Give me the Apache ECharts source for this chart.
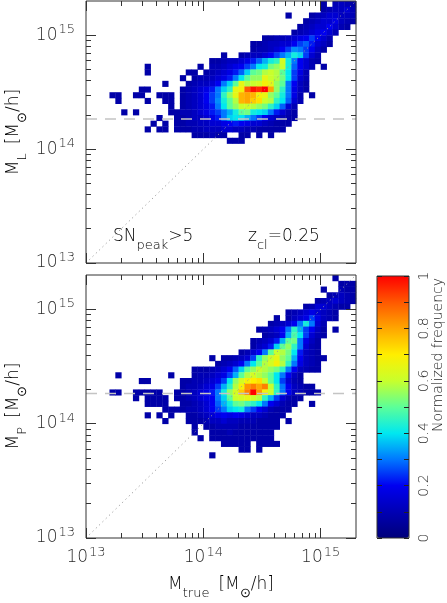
<!DOCTYPE html>
<html><head><meta charset="utf-8">
<script src="https://cdn.jsdelivr.net/npm/echarts@6/dist/echarts.min.js"></script>
<style>html,body{margin:0;padding:0;background:#fff}#c{width:447px;height:603px}</style>
</head><body><div id="c"></div>
<script>
// ---- data (log10 mass bins, width 0.05 dex, starting at 10^13) ----
const binStart = 13.0;
const binWidth = 0.05;
const axisMin = 13;
const axisMax = Math.log10(2e15);
const majorExps = [13, 14, 15];
const minorMults = [2, 3, 4, 5, 6, 7, 8, 9];
const massCut = 1.84e14;
const diagMass = [1e13, 2e15];
const cbarTicks = [0, 0.2, 0.4, 0.6, 0.8, 1];
const cbarLabels = ['0', '0.2', '0.4', '0.6', '0.8', '1'];

// rows: [yBin, firstXBin, normalized frequency x100 per x bin ...]
const topRows = [
  [45,40, 8,0,10,12,10,8],
  [44,40, 8,10,12,12,15,10],
  [43,34, 8,0,0,0,8,10,12,15,15,12,12,10],
  [42,37, 8,10,12,15,15,18,12,10,8],
  [41,36, 8,10,12,15,15,20,15,10,8],
  [40,35, 8,10,12,15,18,20,15,10],
  [39,30, 8,8,10,10,12,15,18,20,25,20,15,10],
  [38,28, 8,8,10,12,12,15,15,20,25,28,22,15,12,8],
  [37,28, 8,10,10,12,15,20,25,32,30,25,20,12,8],
  [36,23, 8,0,0,8,10,12,12,15,20,25,30,35,42,38,25,15,10],
  [35,21, 8,8,10,12,12,15,18,22,28,35,42,45,62,42,30,20,15,10,8],
  [34,10, 8,0,0,0,0,0,0,0,0,8,0,10,10,12,15,18,20,25,30,40,42,52,55,60,42,28,20,15,10,0,8],
  [33,10, 8,0,0,0,0,0,0,8,8,0,8,10,12,15,18,22,28,38,50,52,58,60,58,50,40,25,18,10],
  [32,16, 8,0,8,10,10,12,15,18,22,30,40,50,55,55,65,60,58,52,40,25,15,10],
  [31,13, 8,0,0,0,8,10,12,12,15,20,30,38,50,65,58,60,62,68,65,55,50,30,20,12,8],
  [30,9, 8,8,0,0,0,0,0,8,10,12,15,18,22,30,38,45,65,68,90,98,95,100,80,55,45,30,18,12,8],
  [29,4, 8,8,0,0,8,8,0,0,8,8,8,0,8,10,12,15,20,25,30,45,55,65,78,80,78,68,66,55,50,42,30,18,10,0,8],
  [28,5, 8,0,0,0,0,8,0,0,8,8,0,8,10,12,15,20,25,32,42,50,58,78,80,75,72,60,58,45,40,28,15,10],
  [27,14, 8,0,8,10,12,15,18,22,30,40,50,55,60,60,58,55,52,45,38,28,15,10],
  [26,6, 8,0,8,0,0,0,0,0,8,8,10,10,12,15,18,22,25,30,35,42,50,52,42,40,38,30,22,15,10,8],
  [25,12, 8,0,0,8,8,10,12,12,15,18,22,30,38,40,40,35,30,25,20,15,12,10,8,8],
  [24,11, 8,0,8,0,8,8,10,10,12,12,15,15,18,20,22,20,18,15,15,12,10,8,8,8],
  [23,10, 8,0,8,8,0,8,8,8,10,10,12,12,12,15,15,12,12,10,10,8,8,8,8,8],
  [22,18, 8,8,8,10,8,8,0,0,8,8,0,8,0,8],
  [21,24, 8,8,8]
];
const botRows = [
  [45,42, 8],
  [44,43, 8,8,8],
  [43,40, 8,0,0,10,8,8],
  [42,41, 8,10,12,10,8],
  [41,39, 8,10,12,15,12,10,8],
  [40,37, 8,10,15,15,12,10,8,8],
  [39,34, 8,10,12,15,18,15,12,10,8],
  [38,32, 8,0,8,12,15,18,25,18,12,10,8],
  [37,31, 8,10,12,15,20,30,42,30,15,10],
  [36,29, 8,10,12,15,20,30,45,35,25,20,12,8,0,8],
  [35,30, 8,10,12,20,35,48,40,25,15,10,8],
  [34,28, 8,10,12,15,22,35,50,52,30,18,12,8],
  [33,28, 8,12,15,22,38,50,55,45,30,15,10,8],
  [32,26, 8,10,15,20,30,50,60,58,52,40,22,12,10,8],
  [31,21, 8,0,8,8,10,12,15,25,45,55,60,65,55,50,35,20,12,10,8,8],
  [30,22, 8,10,12,15,20,30,40,50,58,62,68,58,45,30,18,12,10,8],
  [29,18, 8,8,8,10,12,15,20,28,38,50,55,60,58,55,52,45,30,20,12,10,8,8],
  [28,5, 8,0,0,0,0,0,0,0,0,8,0,0,0,8,10,10,12,15,18,25,35,50,58,62,58,55,50,40,30,20,12,8],
  [27,9, 8,8,0,0,0,0,0,8,8,10,10,12,15,18,25,40,55,62,68,70,72,60,50,40,25,15,10,8],
  [26,16, 8,10,10,12,15,18,25,35,45,58,68,82,85,80,85,60,45,30,20,12,10,8,8],
  [25,4, 8,8,0,0,8,8,8,8,8,0,0,8,8,10,12,15,18,22,30,42,55,62,75,85,100,82,68,60,45,30,20,12,10,8,8,8],
  [24,8, 8,0,8,8,8,8,0,8,8,10,12,15,18,20,30,38,50,60,62,65,60,58,45,35,25,15,10,8,8],
  [23,10, 8,8,8,8,0,0,8,8,10,12,15,20,28,35,42,50,52,48,45,40,30,20,15,10,8,8,0,0,8],
  [22,13, 8,8,8,8,10,10,12,15,20,25,30,38,40,42,30,25,20,15,10,8,8,8],
  [21,10, 8,0,8,0,8,0,0,8,8,10,12,15,18,20,18,20,18,15,12,12,10,8,8,8],
  [20,13, 8,0,0,0,8,8,8,10,12,12,15,12,12,10,10,10,8,8,8,8,0,8],
  [19,18, 8,0,8,8,10,10,10,10,8,8,8,8,8,8,8],
  [18,18, 8,0,0,8,8,8,10,8,8,8,8,8,8,8],
  [17,19, 8,0,8,8,8,8,8,8,8,8,8,8,8],
  [16,23, 8,8,8,8,8,0,8,8,8,8],
  [15,26, 8,8,0,8],
  [14,21, 8]
];

// ---- build ----
function cells(rows) {
  const out = [];
  rows.forEach(r => {
    const j = r[0], i0 = r[1];
    for (let k = 2; k < r.length; k++) {
      if (r[k] > 0) out.push([binStart + (i0 + k - 2) * binWidth, binStart + j * binWidth, r[k] / 100]);
    }
  });
  return out;
}
const F = '"DejaVu Sans", "Liberation Sans", sans-serif';
const W = 200;
const TXT = '#2a2a2a';
const minorVals = [];
majorExps.forEach(e => minorMults.forEach(m => { const v = e + Math.log10(m); if (v < axisMax - 1e-6) minorVals.push(v); }));
const tickRich = {
  b: {fontFamily: F, fontWeight: W, fontSize: 17, lineHeight: 24, color: TXT},
  s: {fontFamily: F, fontWeight: W, fontSize: 13, lineHeight: 13, verticalAlign: 'top', color: TXT, padding: [0, 0, 0, 1]}
};
function mkAxis(gridIndex, position, vals, len, labelMargin) {
  return {
    type: 'value', gridIndex, position, min: axisMin, max: axisMax, z: 5,
    axisLine: {show: false, onZero: false}, splitLine: {show: false},
    axisTick: {show: true, inside: true, length: len, customValues: vals, lineStyle: {color: '#333', width: 1}},
    axisLabel: labelMargin != null ? {
      show: true, customValues: majorExps, margin: labelMargin,
      formatter: v => '{b|10}{s|' + Math.round(v) + '}', rich: tickRich
    } : {show: false}
  };
}
const xAxes = [], yAxes = [];
[0, 1].forEach(g => {
  xAxes.push(mkAxis(g, 'bottom', majorExps, 10, g === 1 ? 8 : null));
  xAxes.push(mkAxis(g, 'bottom', minorVals, 5, null));
  xAxes.push(mkAxis(g, 'top', majorExps, 10, null));
  xAxes.push(mkAxis(g, 'top', minorVals, 5, null));
  yAxes.push(mkAxis(g, 'left', majorExps, 10, 11));
  yAxes.push(mkAxis(g, 'left', minorVals, 5, null));
  yAxes.push(mkAxis(g, 'right', majorExps, 10, null));
  yAxes.push(mkAxis(g, 'right', minorVals, 5, null));
});
xAxes.push({type: 'value', gridIndex: 2, show: false, min: 0, max: 1});
const cbTickStyle = {show: true, inside: true, length: 5, lineStyle: {color: '#222', width: 1}};
yAxes.push({type: 'value', gridIndex: 2, position: 'left', min: 0, max: 1, interval: 0.1, z: 10,
  axisLine: {show: false}, splitLine: {show: false}, axisTick: cbTickStyle, axisLabel: {show: false}});
yAxes.push({type: 'value', gridIndex: 2, position: 'right', min: 0, max: 1, interval: 0.1, z: 10,
  axisLine: {show: false}, splitLine: {show: false}, axisTick: cbTickStyle,
  axisLabel: {show: true, rotate: 90, margin: 8, fontFamily: F, fontWeight: W, fontSize: 14, color: TXT,
    formatter: v => { const k = cbarTicks.findIndex(t => Math.abs(t - v) < 1e-6); return k >= 0 ? cbarLabels[k] : ''; }}});

function cellSeries(data, ai) {
  return {
    type: 'custom', xAxisIndex: ai, yAxisIndex: ai, data, encode: {x: 0, y: 1}, z: 2, silent: true,
    renderItem(params, api) {
      const x0 = api.value(0), y0 = api.value(1);
      const p0 = api.coord([x0, y0]), p1 = api.coord([x0 + binWidth, y0 + binWidth]);
      return {type: 'rect', shape: {x: p0[0], y: p1[1], width: p1[0] - p0[0] + 0.4, height: p0[1] - p1[1] + 0.4},
        style: {fill: api.visual('color')}};
    }
  };
}
function cutSeries(ai) {
  const yc = Math.log10(massCut);
  return {type: 'line', xAxisIndex: ai, yAxisIndex: ai, data: [[axisMin, yc], [axisMax, yc]], symbol: 'none', silent: true, z: 4,
    lineStyle: {color: '#c4c4c4', width: 1.6, type: [11, 8]}};
}
function diagSeries(ai) {
  return {type: 'line', xAxisIndex: ai, yAxisIndex: ai, data: diagMass.map(m => [Math.log10(m), Math.log10(m)]),
    symbol: 'none', silent: true, z: 4, lineStyle: {color: '#999999', width: 1, type: [1.2, 3.4]}};
}

const mainRich = {
  m: {fontFamily: F, fontWeight: W, fontSize: 17, lineHeight: 30, color: TXT},
  sub: {fontFamily: F, fontWeight: W, fontSize: 13, lineHeight: 13, verticalAlign: 'bottom', color: TXT}
};
const titleRich = {
  m: {fontFamily: F, fontWeight: W, fontSize: 17, lineHeight: 30, color: TXT},
  sp: {fontFamily: F, fontSize: 17, lineHeight: 30, color: TXT, width: 9},
  sub: {fontFamily: F, fontWeight: W, fontSize: 13, lineHeight: 13, verticalAlign: 'bottom', color: TXT}
};
function txt(x, y, text, rich, rot, align) {
  return {type: 'text', x, y, rotation: rot || 0, silent: true, z: 20,
    style: {text, rich, align: align || 'center', verticalAlign: 'middle'}};
}

const chart = echarts.init(document.getElementById('c'), null, {renderer: 'canvas'});
chart.setOption({
  animation: false,
  backgroundColor: '#fff',
  grid: [
    {left: 86, top: 1, width: 270, height: 262, show: true, borderColor: '#333', borderWidth: 1, backgroundColor: 'transparent', z: 5},
    {left: 86, top: 275, width: 270, height: 263, show: true, borderColor: '#333', borderWidth: 1, backgroundColor: 'transparent', z: 5},
    {left: 377, top: 276, width: 32, height: 262, show: true, borderColor: '#333', borderWidth: 1, backgroundColor: 'transparent', z: 10}
  ],
  xAxis: xAxes,
  yAxis: yAxes,
  visualMap: {
    type: 'continuous', min: 0, max: 1, dimension: 2, seriesIndex: [0, 1],
    left: 377, top: 276, itemWidth: 32, itemHeight: 262, padding: 0,
    calculable: false, showLabel: false, text: null, hoverLink: false,
    inRange: {color: ['#00007a', '#0000b4', '#0000f0', '#0078ff', '#00e8f0', '#5cff98', '#c8ff2c', '#ffee00', '#ffa600', '#ff5800', '#ff0000']}
  },
  series: [
    cellSeries(cells(topRows), 0),
    cellSeries(cells(botRows), 4),
    cutSeries(0), cutSeries(4),
    diagSeries(0), diagSeries(4)
  ],
  graphic: [
    txt(14, 132, '{m|M}{sub|L}{sp| }{m|[M}{sub|⊙}{m|/h]}', titleRich, Math.PI / 2),
    txt(14, 406, '{m|M}{sub|P}{sp| }{m|[M}{sub|⊙}{m|/h]}', titleRich, Math.PI / 2),
    txt(221, 585, '{m|M}{sub|true}{sp| }{m|[M}{sub|⊙}{m|/h]}', titleRich, 0),
    txt(113, 237, '{m|SN}{sub|peak}{m|>5}', mainRich, 0, 'left'),
    txt(248, 237, '{m|z}{sub|cl}{m|=0.25}', mainRich, 0, 'left'),
    {type: 'text', x: 438, y: 355, rotation: Math.PI / 2, silent: true, z: 20,
      style: {text: 'Normalized frequency', font: '200 14px ' + F, fill: TXT, align: 'center', verticalAlign: 'middle'}}
  ]
});
</script></body></html>
